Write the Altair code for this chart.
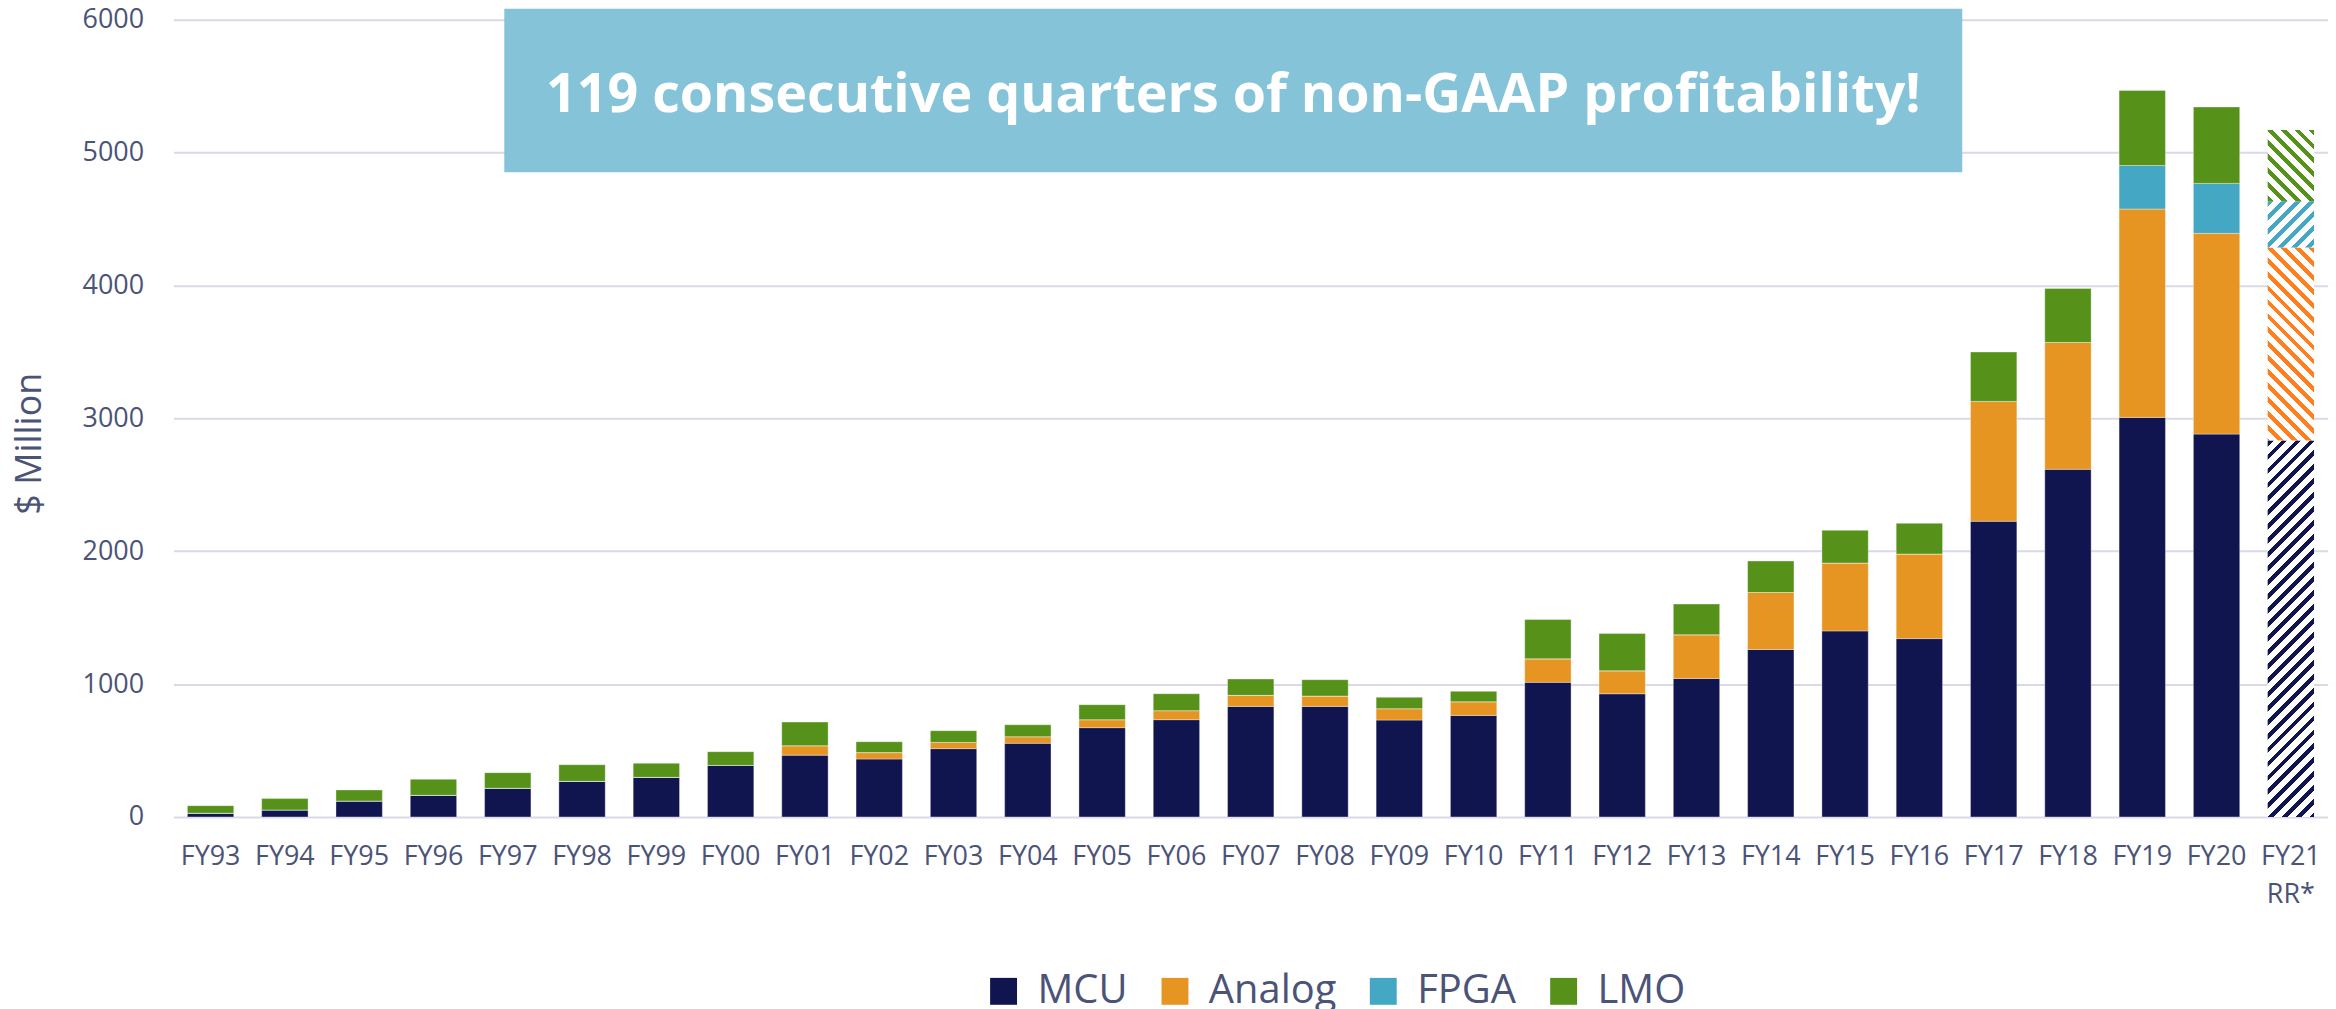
import altair as alt
import pandas as pd

YEARS = ["FY93", "FY94", "FY95", "FY96", "FY97", "FY98", "FY99", "FY00", "FY01", "FY02",
         "FY03", "FY04", "FY05", "FY06", "FY07", "FY08", "FY09", "FY10", "FY11", "FY12",
         "FY13", "FY14", "FY15", "FY16", "FY17", "FY18", "FY19", "FY20", "FY21 RR*"]
MCU = [28, 53, 120, 163, 216, 268, 298, 388, 465, 436, 514, 554, 672, 732, 832, 832, 729,
       764, 1013, 927, 1042, 1260, 1400, 1342, 2225, 2616, 3007, 2881, 2833]
ANALOG = [0, 0, 0, 0, 0, 0, 0, 0, 71, 48, 47, 50, 60, 68, 83, 78, 86, 103, 177, 173, 329,
          429, 511, 637, 902, 955, 1568, 1511, 1453]
FPGA = [0, 0, 0, 0, 0, 0, 0, 0, 0, 0, 0, 0, 0, 0, 0, 0, 0, 0, 0, 0, 0, 0, 0, 0, 0, 0,
        328, 376, 347]
LMO = [57, 85, 83, 120, 117, 125, 106, 103, 178, 82, 88, 90, 113, 127, 123, 123, 85, 78,
       296, 280, 231, 237, 246, 231, 372, 406, 565, 575, 536]

SEGMENTS = ["MCU", "Analog", "FPGA", "LMO"]
COLORS = ["#101550", "#E69523", "#44A7C4", "#56921A"]
HATCH_COLORS = ["#101550", "#FF7F1F", "#44A7C4", "#56921A"]
HATCH_DIRS = ["/", "\\", "/", "\\"]
Y_TICKS = [0, 1000, 2000, 3000, 4000, 5000, 6000]
Y_TITLE = "$ Million"
BANNER = "119 consecutive quarters of non-GAAP profitability!"

TEXT = "#4B5377"
GRID = "#D9D9E8"
FONT = "Open Sans"

rows = []
for i, yr in enumerate(YEARS):
    for k, (seg, vals) in enumerate(zip(SEGMENTS, [MCU, ANALOG, FPGA, LMO])):
        rows.append({"year": yr, "segment": seg, "value": vals[i], "order": k})
df = pd.DataFrame(rows)

W, H = 2162, 800
PAD_L, PAD_T = 166, 10
P_IN, P_OUT = 0.376, 0.188
N = len(YEARS)
STEP = W / (N - P_IN + 2 * P_OUT)
BAND = STEP * (1 - P_IN)
PX = H / Y_TICKS[-1]
PERIOD = 14.0   # horizontal period of the hatch stripes, px
FRAC = 0.42     # coloured share of a stripe period


def hatch(color, value, direction):
    w, h = BAND, max(value * PX, 1.0)
    r = w / h
    lam = (r + 1) / (r * r + 1)
    n = (w + h) / PERIOD
    stops = []
    k = 0
    while k / n < 1:
        a = k / n
        b = min((k + FRAC) / n, 1.0)
        c = min((k + 1) / n, 1.0)
        stops += [alt.GradientStop(color=color, offset=a),
                  alt.GradientStop(color=color, offset=b),
                  alt.GradientStop(color="#ffffff", offset=b),
                  alt.GradientStop(color="#ffffff", offset=c)]
        k += 1
    if direction == "/":
        return alt.LinearGradient(gradient="linear", stops=stops,
                                  x1=0, y1=0, x2=lam * r, y2=lam)
    return alt.LinearGradient(gradient="linear", stops=stops,
                              x1=1, y1=0, x2=1 - lam * r, y2=lam)


base = alt.Chart(df).transform_window(
    top="sum(value)", groupby=["year"], sort=[alt.SortField("order")], frame=[None, 0]
).transform_calculate(bottom="datum.top - datum.value")

x_enc = alt.X(
    "year:N", sort=YEARS,
    scale=alt.Scale(paddingInner=P_IN, paddingOuter=P_OUT),
    axis=alt.Axis(title=None, labelAngle=0, domain=False, ticks=False, tickSize=0,
                  labelFontSize=27, labelColor=TEXT, labelFont=FONT, labelPadding=27,
                  labelLineHeight=38, grid=False,
                  labelExpr="datum.label == 'FY21 RR*' ? ['FY21', 'RR*'] : datum.label"),
)
y_enc = alt.Y(
    "top:Q",
    scale=alt.Scale(domain=[0, Y_TICKS[-1]], nice=False),
    axis=alt.Axis(values=Y_TICKS, format="d", domain=False, ticks=False, tickSize=0,
                  labelFontSize=27, labelColor=TEXT, labelFont=FONT, labelPadding=30,
                  grid=True, gridColor=GRID, gridWidth=2,
                  title=Y_TITLE, titleFontSize=36, titleColor=TEXT, titleFont=FONT,
                  titleFontWeight="normal", titleX=-144, titleY=425,
                  titleAlign="center", titleBaseline="middle", titleAngle=-90),
)
y2_enc = alt.Y2("bottom:Q")

main = base.transform_filter(alt.datum.year != YEARS[-1]).mark_bar(
    stroke="white", strokeWidth=1, strokeOpacity=0.35
).encode(
    x=x_enc, y=y_enc, y2=y2_enc,
    color=alt.Color(
        "segment:N",
        scale=alt.Scale(domain=SEGMENTS, range=COLORS),
        legend=alt.Legend(
            orient="none", legendX=813, legendY=955, direction="horizontal",
            title=None, symbolType="square", symbolSize=729, symbolStrokeWidth=0,
            labelFontSize=40, labelColor=TEXT, labelFont=FONT, labelOffset=14,
            columnPadding=27, columns=4,
        ),
    ),
)

layers = [main]
for seg, col, d in zip(SEGMENTS, HATCH_COLORS, HATCH_DIRS):
    val = dict(zip(YEARS, {"MCU": MCU, "Analog": ANALOG, "FPGA": FPGA, "LMO": LMO}[seg]))[YEARS[-1]]
    layers.append(
        base.transform_filter(
            (alt.datum.year == YEARS[-1]) & (alt.datum.segment == seg)
        ).mark_bar(fill=hatch(col, val, d)).encode(x=x_enc, y=y_enc, y2=y2_enc)
    )

banner_df = pd.DataFrame({"t": [BANNER]})
box = alt.Chart(banner_df).mark_rect(color="#85C4D8").encode(
    x=alt.value(506 - 174), x2=alt.value(1969 - 174),
    y=alt.value(7 - 18), y2=alt.value(171 - 18),
)
txt = alt.Chart(banner_df).mark_text(
    color="white", font=FONT, fontWeight="bold", fontSize=54,
    align="center", baseline="alphabetic",
).encode(x=alt.value(1237.5 - 174), y=alt.value(111 - 18), text="t:N")

layers += [box, txt]

chart = alt.layer(*layers).properties(
    width=W, height=H,
    padding={"left": PAD_L, "top": PAD_T, "right": 0, "bottom": 191},
    autosize=alt.AutoSizeParams(type="none"),
).configure_view(stroke=None)

chart.save("out.html", embed_options={"renderer": "svg", "actions": False})
